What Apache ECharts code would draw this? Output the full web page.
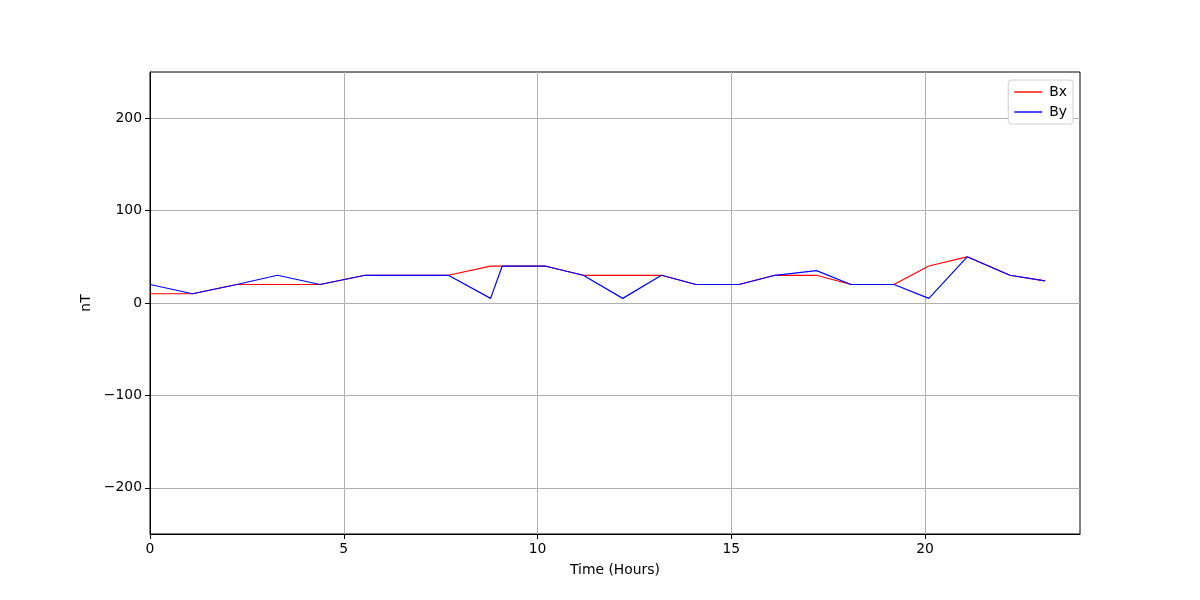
<!DOCTYPE html>
<html>
<head>
<meta charset="utf-8">
<script src="https://cdn.jsdelivr.net/npm/echarts@6/dist/echarts.min.js"></script>
<style>
  html, body { margin: 0; padding: 0; background: #fff; }
  #chart { width: 1200px; height: 600px; }
</style>
</head>
<body>
<div id="chart"></div>
<script>
// sample times (hours) and field components (nT)
const timeHours = [0, 1.1, 2.24, 3.29, 4.39, 5.55, 6.6, 7.7, 8.79, 9.09, 10.19, 11.18, 12.2, 13.2, 14.09, 15.2, 16.13, 17.2, 18.09, 19.2, 20.1, 21.09, 22.19, 23.1]
const bx = [10, 10, 20, 20, 20, 30, 30, 30, 40, 40, 40, 30, 30, 30, 20, 20, 30, 30, 20, 20, 40, 50, 30, 24]
const by = [20, 10, 20, 30, 20, 30, 30, 30, 5, 40, 40, 30, 5, 30, 20, 20, 30, 35, 20, 20, 5, 50, 30, 24]
const xTicks = [0, 5, 10, 15, 20]
const yTicks = [-200, -100, 0, 100, 200]

const pairs = (ys) => timeHours.map((t, i) => [t, ys[i]])
const minus = (v) => (v < 0 ? '\u2212' + Math.abs(v) : String(v))

const font = { fontFamily: 'DejaVu Sans', fontSize: 13.9, color: '#000' }

const chart = echarts.init(document.getElementById('chart'), null, { renderer: 'canvas' })
chart.setOption({
  animation: false,
  grid: {
    left: 150, right: 120, top: 72, bottom: 66,
    show: true, borderColor: '#000', borderWidth: 1, backgroundColor: 'transparent',
  },
  legend: {
    orient: 'vertical',
    right: 127, top: 80,
    backgroundColor: '#fff',
    borderColor: '#d0d0d0', borderWidth: 1, borderRadius: 3,
    padding: [5, 6, 5, 6],
    itemGap: 6,
    itemWidth: 28, itemHeight: 1.4,
    icon: 'rect',
    textStyle: { ...font, padding: [0, 0, 0, 2] },
    data: ['Bx', 'By'],
  },
  xAxis: {
    type: 'value',
    min: 0, max: 24, interval: 5,
    name: 'Time (Hours)',
    nameLocation: 'middle', nameGap: 29,
    nameTextStyle: font,
    axisLine: { show: true, onZero: false, lineStyle: { color: '#000', width: 1 } },
    axisTick: { show: true, length: 5, lineStyle: { color: '#000' }, customValues: xTicks },
    axisLabel: { ...font, margin: 8, customValues: xTicks },
    splitLine: { show: true, lineStyle: { color: '#b0b0b0', width: 1 } },
  },
  yAxis: {
    type: 'value',
    min: -250, max: 250,
    name: 'nT',
    nameLocation: 'middle', nameGap: 55,
    nameTextStyle: font,
    axisLine: { show: true, onZero: false, lineStyle: { color: '#000', width: 1 } },
    axisTick: { show: true, length: 5, lineStyle: { color: '#000' }, customValues: yTicks },
    axisLabel: { ...font, margin: 8, customValues: yTicks, formatter: minus },
    splitLine: { show: true, lineStyle: { color: '#b0b0b0', width: 1 } },
  },
  series: [
    {
      name: 'Bx', type: 'line', data: pairs(bx),
      symbol: 'none', color: '#ff0000',
      lineStyle: { color: '#ff0000', width: 1.2 },
    },
    {
      name: 'By', type: 'line', data: pairs(by),
      symbol: 'none', color: '#0000ff',
      lineStyle: { color: '#0000ff', width: 1.2 },
    },
  ],
})
</script>
</body>
</html>
